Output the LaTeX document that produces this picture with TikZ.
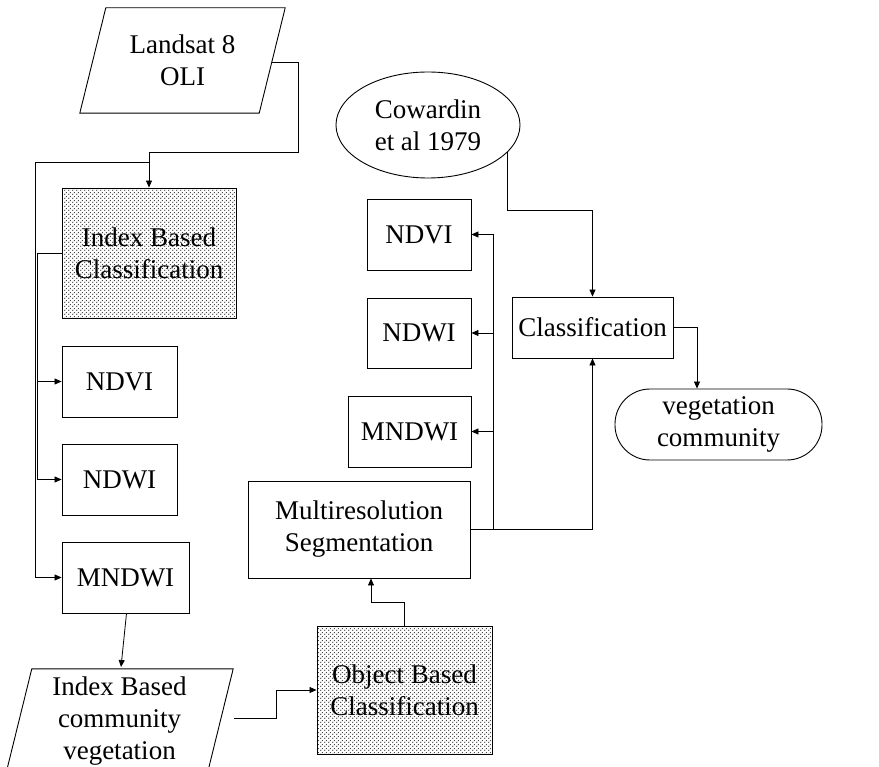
\documentclass[tikz,border=0pt]{standalone}
\usepackage{fontspec}
\setmainfont{Liberation Serif}
\usetikzlibrary{arrows.meta,shapes.geometric,patterns,calc}
\pgfdeclarepatternformonly{mydots}{\pgfpoint{0pt}{0pt}}{\pgfpoint{4pt}{4pt}}{\pgfpoint{4pt}{4pt}}{%
  \pgfpathcircle{\pgfpoint{1pt}{1pt}}{0.8pt}%
  \pgfpathcircle{\pgfpoint{3pt}{3pt}}{0.8pt}%
  \pgfusepath{fill}}
\tikzset{
  lbl/.style={inner sep=0pt, align=center, font=\fontsize{27}{32}\selectfont},
  box/.style={lbl, draw, line width=0.9pt},
  dotbox/.style={box, pattern=mydots, pattern color=black!80},
  conn/.style={line width=0.8pt},
  arr/.style={conn, -{Triangle[length=7pt,width=6pt]}},
}
\begin{document}
\begin{tikzpicture}[x=1pt,y=-1pt]
\useasboundingbox (0,0) rectangle (879,767);
\clip (0,0) rectangle (879,767);
% Landsat parallelogram
\node[lbl, minimum width=205pt, minimum height=105pt] (ls) at (182.5,60.5) {Landsat 8\\OLI};
\draw[line width=0.9pt] ([xshift=26pt]ls.north west) -- (ls.north east) -- ([xshift=-26pt]ls.south east) -- (ls.south west) -- cycle;
\coordinate (lsR) at (271.5,62);
% left column
\node[dotbox, minimum width=174pt, minimum height=130pt] (ibc) at (149,253) {Index Based\\Classification};
\node[box, minimum width=115pt, minimum height=71pt] (lndvi) at (119.5,381.5) {NDVI};
\node[box, minimum width=115pt, minimum height=71pt] (lndwi) at (119.5,479.5) {NDWI};
\node[box, minimum width=127pt, minimum height=71pt] (lmndwi) at (125.5,577.5) {MNDWI};
% Index based community vegetation parallelogram
\node[lbl, minimum width=227pt, minimum height=105pt] (ibcv) at (119.5,721.5) {Index Based\\community\\vegetation};
\draw[line width=0.9pt] ([xshift=26pt]ibcv.north west) -- (ibcv.north east) -- ([xshift=-26pt]ibcv.south east) -- (ibcv.south west) -- cycle;
\coordinate (ibR) at (234,718);
\coordinate (ibT) at (121,667);
% object and multires
\node[dotbox, minimum width=175pt, minimum height=128pt] (obj) at (404.5,690) {Object Based\\Classification};
\node[box, minimum width=222pt, minimum height=97pt] (ms) at (359,529.5) {Multiresolution\\Segmentation};
% middle column
\node[box, minimum width=104pt, minimum height=71pt] (mndvi) at (419,234.5) {NDVI};
\node[box, minimum width=104pt, minimum height=70pt] (mndwi) at (419,333) {NDWI};
\node[box, minimum width=123pt, minimum height=71pt] (mmndwi) at (409.5,431.5) {MNDWI};
% right part
\node[box, ellipse, minimum width=184pt, minimum height=106pt] (cow) at (428,125) {Cowardin\\et al 1979};
\node[box, minimum width=161pt, minimum height=61pt] (cls) at (592.5,327.5) {Classification};
\node[box, rounded corners=35pt, minimum width=207pt, minimum height=71pt] (veg) at (718.5,424.5) {vegetation\\community};
% connectors
\draw[arr] (lsR) -- (298,62) -- (298,152) -- (149,152) -- (ibc.north);
\draw[arr] (149,162) -- (35,162) |- (lmndwi.west);
\draw[arr] (ibc.west) -- (37,253) |- (lndwi.west);
\draw[arr] (37,381.5) -- (lndvi.west);
\draw[arr] ([xshift=1pt]lmndwi.south) -- (ibT);
\draw[arr] (ibR) -- (276,718) |- (obj.west);
\draw[arr] (obj.north) -- (404.5,602) -- (371,602) -- ([xshift=12pt]ms.south);
\draw[conn] (ms.east) -- (493,529.5);
\draw[arr] (493,529.5) |- (mndvi.east);
\draw[arr] (493,333) -- (mndwi.east);
\draw[arr] (493,431.5) -- (mmndwi.east);
\draw[arr] (ms.east) -| (cls.south);
\draw[arr] (cow.-19) -- ++(0,58) -| (cls.north);
\draw[arr] (cls.east) -| ([xshift=-21.5pt]veg.north);
\end{tikzpicture}
\end{document}
